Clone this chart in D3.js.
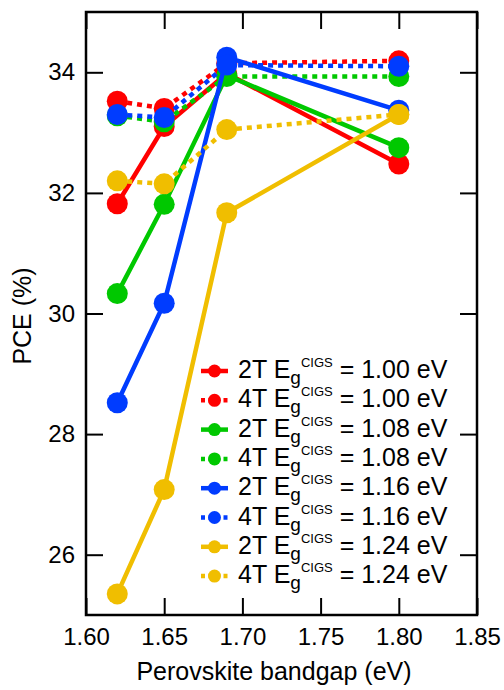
<!DOCTYPE html>
<html>
<head>
<meta charset="utf-8">
<script src="https://cdn.jsdelivr.net/npm/d3@7"></script>
<style>
  html, body { margin: 0; padding: 0; background: #fff; }
  svg { display: block; font-family: "Liberation Sans", Arial, Helvetica, sans-serif; }
</style>
</head>
<body>
<div id="chart"></div>
<script>
// ------------------------------------------------------------------ DATA
const bandgaps = [1.62, 1.65, 1.69, 1.80];
const cigsGaps = ['1.00', '1.08', '1.16', '1.24'];
const colours  = ['#ff0000', '#00c800', '#003cff', '#f0be00'];

// PCE (%) per CIGS bandgap, two-terminal (2T) and four-terminal (4T)
const pce2T_100 = [31.82, 33.10, 33.98, 32.48];
const pce4T_100 = [33.52, 33.40, 34.15, 34.19];
const pce2T_108 = [30.33, 31.81, 33.95, 32.75];
const pce4T_108 = [33.28, 33.18, 33.93, 33.93];
const pce2T_116 = [28.52, 30.17, 34.25, 33.37];
const pce4T_116 = [33.30, 33.25, 34.12, 34.10];
const pce2T_124 = [25.35, 27.08, 31.67, 33.30];
const pce4T_124 = [32.20, 32.15, 33.05, 33.30];

const xTicks = [1.60, 1.65, 1.70, 1.75, 1.80, 1.85];
const yTicks = [26, 28, 30, 32, 34];

const series = [
  { type: '2T', gap: 0, values: pce2T_100 },
  { type: '4T', gap: 0, values: pce4T_100 },
  { type: '2T', gap: 1, values: pce2T_108 },
  { type: '4T', gap: 1, values: pce4T_108 },
  { type: '2T', gap: 2, values: pce2T_116 },
  { type: '4T', gap: 2, values: pce4T_116 },
  { type: '2T', gap: 3, values: pce2T_124 },
  { type: '4T', gap: 3, values: pce4T_124 }
];

// ------------------------------------------------------------------ SVG
const width = 504, height = 690;
const margin = { top: 12, right: 27, bottom: 75, left: 86 };
const iw = width - margin.left - margin.right;
const ih = height - margin.top - margin.bottom;

const svg = d3.select('#chart').append('svg')
  .attr('width', width)
  .attr('height', height);

const g = svg.append('g').attr('transform', `translate(${margin.left},${margin.top})`);

const x = d3.scaleLinear().domain([1.60, 1.85]).range([0, iw]);
const y = d3.scaleLinear().domain([25, 35]).range([ih, 0]);

// ------------------------------------------------------------------ AXES
const tickLen = 17;
const tickFont = 24;
const titleFont = 25;

const styleAxis = sel => {
  sel.select('.domain').remove();
  sel.selectAll('.tick line').attr('stroke', '#000').attr('stroke-width', 2);
  sel.selectAll('.tick text').attr('font-size', tickFont).attr('fill', '#000')
    .attr('font-family', '"Liberation Sans", Arial, sans-serif');
};

g.append('g')
  .attr('transform', `translate(0,${ih})`)
  .call(d3.axisBottom(x).tickValues(xTicks).tickFormat(d3.format('.2f'))
    .tickSizeInner(-tickLen).tickSizeOuter(0).tickPadding(13))
  .call(styleAxis);

g.append('g')
  .call(d3.axisTop(x).tickValues(xTicks).tickFormat('')
    .tickSizeInner(-tickLen).tickSizeOuter(0))
  .call(styleAxis);

g.append('g')
  .call(d3.axisLeft(y).tickValues(yTicks)
    .tickSizeInner(-tickLen).tickSizeOuter(0).tickPadding(11))
  .call(styleAxis);

g.append('g')
  .attr('transform', `translate(${iw},0)`)
  .call(d3.axisRight(y).tickValues(yTicks).tickFormat('')
    .tickSizeInner(-tickLen).tickSizeOuter(0))
  .call(styleAxis);

// frame
g.append('rect')
  .attr('width', iw).attr('height', ih)
  .attr('fill', 'none').attr('stroke', '#000').attr('stroke-width', 2.5);

// axis titles
svg.append('text')
  .attr('x', 274).attr('y', 680)
  .attr('text-anchor', 'middle')
  .attr('font-size', titleFont)
  .text('Perovskite bandgap (eV)');

svg.append('text')
  .attr('transform', `translate(31,316) rotate(-90)`)
  .attr('text-anchor', 'middle')
  .attr('font-size', titleFont)
  .text('PCE (%)');

// ------------------------------------------------------------------ LINES + MARKERS
const line = d3.line()
  .x((d, i) => x(bandgaps[i]))
  .y(d => y(d));

series.forEach(s => {
  const col = colours[s.gap];
  const sg = g.append('g');
  sg.append('path')
    .attr('d', line(s.values))
    .attr('fill', 'none')
    .attr('stroke', col)
    .attr('stroke-width', 4.5)
    .attr('stroke-dasharray', s.type === '4T' ? '5,5' : null);
  sg.selectAll('circle')
    .data(s.values)
    .join('circle')
    .attr('cx', (d, i) => x(bandgaps[i]))
    .attr('cy', d => y(d))
    .attr('r', 10.5)
    .attr('fill', col);
});

// ------------------------------------------------------------------ LEGEND
const legend = svg.append('g').attr('transform', 'translate(201,371)');
const rowH = 29.3;

series.forEach((s, k) => {
  const col = colours[s.gap];
  const row = legend.append('g').attr('transform', `translate(0,${k * rowH})`);
  row.append('line')
    .attr('x1', 0).attr('x2', 27).attr('y1', 0).attr('y2', 0)
    .attr('stroke', col).attr('stroke-width', 4.5)
    .attr('stroke-dasharray', s.type === '4T' ? '4,3.5' : null);
  row.append('circle').attr('cx', 13.5).attr('cy', 0).attr('r', 6.5).attr('fill', col);

  const t = row.append('text')
    .attr('x', 37).attr('y', 7)
    .attr('font-size', 25);
  t.append('tspan').text(`${s.type} E`);
  t.append('tspan').attr('font-size', 19).attr('dy', 6).text('g');
  t.append('tspan').attr('font-size', 13).attr('dy', -17).text('CIGS');
  t.append('tspan').attr('dy', 11).text(` = ${cigsGaps[s.gap]} eV`);
});
</script>
</body>
</html>
